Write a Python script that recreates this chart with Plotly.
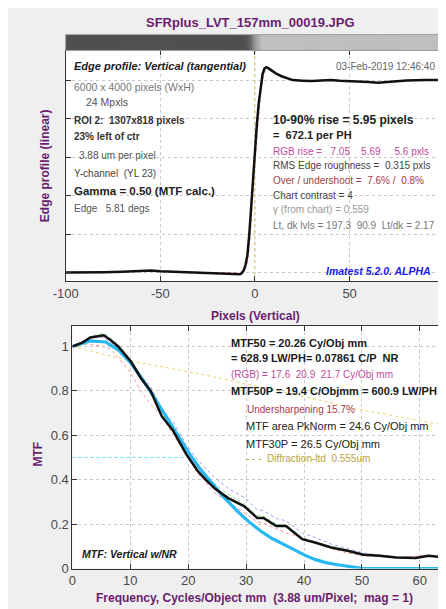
import plotly.graph_objects as go

W, H = 446, 609

# ---------------- data ----------------
edge_x = [-100, -90, -80, -70, -60, -55, -50, -40, -30, -20, -15, -12, -10, -8, -7, -6, -5, -4, -3, -2, -1,
          0, 1, 2, 3, 4, 5, 6, 7, 9, 11, 14, 17, 20, 25, 30, 35, 40, 45, 50, 55, 60, 65, 70, 75, 80, 90, 100]
edge_y = [0.0, 0.0, 0.002, 0.004, 0.006, 0.01, 0.007, 0.003, 0.0, -0.003, -0.005, -0.008, -0.01, -0.009, -0.004, 0.01, 0.04, 0.09, 0.2, 0.35, 0.5,
          0.64, 0.77, 0.88, 0.97, 1.03, 1.06, 1.067, 1.062, 1.048, 1.035, 1.02, 1.008, 1.0, 0.997, 0.995, 0.998, 1.0, 0.996, 0.994, 0.995, 0.99, 0.986, 0.99, 0.996, 0.998, 1.0, 1.0]
edge_r = [0.0, 0.0, 0.002, 0.004, 0.006, 0.01, 0.007, 0.003, 0.0, 0.0, 0.0, 0.0, 0.0, 0.0, 0.005, 0.01, 0.02, 0.05, 0.12, 0.25, 0.4,
          0.56, 0.7, 0.83, 0.93, 1.0, 1.04, 1.06, 1.06, 1.05, 1.035, 1.02, 1.008, 1.0, 0.997, 0.995, 0.998, 1.0, 0.996, 0.994, 0.995, 0.99, 0.986, 0.99, 0.996, 0.998, 1.0, 1.0]

edge_ticks = [-100, -50, 0, 50, 100]
edge_tick_text = ["-100", "-50", "0", "50", "100"]

freq = [0, 1.7, 3.1, 5.4, 6.5, 7.9, 10.1, 11.8, 13.5, 15.4, 17.4, 19.6, 21.6, 23.0, 24.6, 26.9, 29.7, 31.9, 33.0,
        35.2, 36.9, 39.7, 41.9, 44.7, 47.5, 50.3, 53.1, 55.9, 59.3, 61.5, 64.0]
mtf_y = [1.0, 1.017, 1.04, 1.05, 1.03, 1.0, 0.932, 0.858, 0.80, 0.687, 0.62, 0.517, 0.44, 0.40, 0.36, 0.317, 0.28, 0.228, 0.228,
         0.191, 0.191, 0.132, 0.117, 0.095, 0.08, 0.062, 0.058, 0.05, 0.047, 0.058, 0.05]
mtf_r = [1.0, 1.01, 1.01, 1.0, 0.99, 0.95, 0.88, 0.80, 0.74, 0.69, 0.60, 0.52, 0.43, 0.39, 0.34, 0.30, 0.25, 0.21, 0.205,
         0.18, 0.16, 0.14, 0.115, 0.09, 0.07, 0.058, 0.055, 0.05, 0.055, 0.06, 0.055]
mtf_g = [1.0, 1.02, 1.045, 1.06, 1.04, 1.01, 0.94, 0.87, 0.81, 0.70, 0.635, 0.535, 0.46, 0.42, 0.38, 0.335, 0.29, 0.24, 0.235,
         0.2, 0.195, 0.14, 0.12, 0.1, 0.085, 0.065, 0.06, 0.052, 0.05, 0.058, 0.052]
mtf_b = [1.0, 1.02, 1.04, 1.04, 1.02, 0.99, 0.93, 0.87, 0.82, 0.72, 0.66, 0.56, 0.49, 0.45, 0.41, 0.36, 0.32, 0.265, 0.26,
         0.225, 0.215, 0.16, 0.14, 0.11, 0.09, 0.07, 0.06, 0.052, 0.05, 0.056, 0.05]

std_f = [0, 3, 5.7, 7.9, 10.1, 12, 14, 16, 18, 20, 22, 24.1, 26, 28.5, 30.5, 32.5, 34.5, 36.4, 38.5, 40.3, 42, 43.6, 45.5, 47.5, 50.3, 55, 64.4]
std_m = [1.0, 1.025, 1.02, 0.985, 0.925, 0.855, 0.775, 0.69, 0.61, 0.525, 0.45, 0.385, 0.325, 0.258, 0.21, 0.169, 0.135, 0.11, 0.08, 0.058, 0.04, 0.028, 0.018, 0.01, 0.0, 0.0, 0.0]

diff_f = [0, 10, 21.3, 30, 40, 48.1, 55, 64.4]
diff_m = [1.0, 0.935, 0.88, 0.83, 0.775, 0.724, 0.69, 0.644]

mtf50 = 20.26

PURPLE = "#6a1d6e"
FONT = "Liberation Sans"

def px(x):
    return x / W

def py(y):
    return 1 - y / H

fig = go.Figure()

# gradient bar (edge image) from the profile
fig.add_trace(go.Heatmap(x=edge_x, y=[0], z=[edge_y], xaxis="x", yaxis="y3",
                         colorscale=[[0, "#4e4e4e"], [1, "#bfbfbf"]], zmin=-0.01, zmax=1.0,
                         zsmooth="best", showscale=False, hoverinfo="skip"))

# top plot
fig.add_trace(go.Scatter(x=edge_x, y=edge_r, mode="lines", line=dict(color="#ff8a8a", width=1, dash="dot"),
                         xaxis="x", yaxis="y"))
fig.add_trace(go.Scatter(x=edge_x, y=edge_y, mode="lines", line=dict(color="#7fd67f", width=1, dash="dot"),
                         xaxis="x", yaxis="y"))
fig.add_trace(go.Scatter(x=[0, 0], y=[-0.046, 1.154], mode="lines",
                         line=dict(color="#d8cc55", width=1, dash="dot"), xaxis="x", yaxis="y"))
fig.add_trace(go.Scatter(x=edge_x, y=edge_y, mode="lines", line=dict(color="#111111", width=2.5),
                         xaxis="x", yaxis="y"))

# bottom plot
fig.add_trace(go.Scatter(x=diff_f, y=diff_m, mode="lines", line=dict(color="#e8d36a", width=1, dash="dot"),
                         xaxis="x2", yaxis="y2"))
fig.add_trace(go.Scatter(x=[0, mtf50], y=[0.5, 0.5], mode="lines", line=dict(color="#4fe6e6", width=1, dash="dot"),
                         xaxis="x2", yaxis="y2"))
fig.add_trace(go.Scatter(x=freq, y=mtf_r, mode="lines", line=dict(color="#ff9090", width=1, dash="dot"),
                         xaxis="x2", yaxis="y2"))
fig.add_trace(go.Scatter(x=freq, y=mtf_b, mode="lines", line=dict(color="#9a9aff", width=1, dash="dot"),
                         xaxis="x2", yaxis="y2"))
fig.add_trace(go.Scatter(x=freq, y=mtf_g, mode="lines", line=dict(color="#80e080", width=1, dash="dot"),
                         xaxis="x2", yaxis="y2"))
fig.add_trace(go.Scatter(x=std_f, y=std_m, mode="lines", line=dict(color="#27b8ef", width=3.2),
                         xaxis="x2", yaxis="y2"))
fig.add_trace(go.Scatter(x=freq, y=mtf_y, mode="lines", line=dict(color="#111111", width=2.5),
                         xaxis="x2", yaxis="y2"))

axis_common = dict(showline=True, linecolor="#333333", linewidth=1, mirror="ticks", ticks="inside",
                   ticklen=5, tickcolor="#333333", showgrid=True, gridcolor="#c8c8c8", griddash="dot",
                   zeroline=False, tickfont=dict(family=FONT, size=13, color="#4a4a4a"))

fig.update_layout(
    width=W, height=H, margin=dict(l=0, r=0, t=0, b=0),
    paper_bgcolor="#efefef", plot_bgcolor="white", showlegend=False,
    font=dict(family=FONT),
    xaxis=dict(domain=[px(46), px(436)], range=[-100, 100], tickvals=edge_ticks, ticktext=edge_tick_text,
               anchor="y", **axis_common),
    yaxis=dict(domain=[py(277), py(43)], range=[-0.046, 1.154], dtick=0.2, showticklabels=False,
               anchor="x", **axis_common),
    yaxis3=dict(domain=[py(43), py(27)], range=[-0.5, 0.5], showticklabels=False, showgrid=False,
                zeroline=False, anchor="x", showline=False),
    xaxis2=dict(domain=[px(53), px(437)], range=[0, 64.4], dtick=10, anchor="y2", **axis_common),
    yaxis2=dict(domain=[py(568), py(322)], range=[0, 1.093], dtick=0.2, anchor="x2", **axis_common),
)

# frame around the gradient bar
fig.add_shape(type="rect", xref="paper", yref="paper", x0=px(46), x1=px(436), y0=py(43), y1=py(27),
              line=dict(color="#999999", width=1))
# partial side bar at right edge
fig.add_shape(type="rect", xref="paper", yref="paper", x0=px(441), x1=px(446), y0=py(247), y1=py(125),
              fillcolor="#5a5a5a", line=dict(color="#bbbbbb", width=1))

def ann(x, y, text, size=10, color="#333333", bold=False, italic=False, anchor="left", angle=0):
    t = text
    if bold:
        t = "<b>" + t + "</b>"
    if italic:
        t = "<i>" + t + "</i>"
    fig.add_annotation(x=px(x), y=py(y), xref="paper", yref="paper", text=t, showarrow=False,
                       xanchor=anchor, yanchor="middle", textangle=angle,
                       font=dict(family=FONT, size=size, color=color))

# titles
ann(236, 15, "SFRplus_LVT_157mm_00019.JPG", 13, PURPLE, bold=True, anchor="center")
ann(242, 312, "Pixels (Vertical)", 12, PURPLE, bold=True, anchor="center")
ann(25, 160, "Edge profile (linear)", 12, PURPLE, bold=True, anchor="center", angle=-90)
ann(18, 452, "MTF", 12, PURPLE, bold=True, anchor="center", angle=-90)
ann(240, 598, "Frequency, Cycles/Object mm  (3.88 um/Pixel;  mag = 1)", 12, PURPLE, bold=True, anchor="center")

# top-left text block
ann(53, 59, "Edge profile: Vertical (tangential)", 11, "#1a1a1a", bold=True, italic=True)
ann(428, 59, "03-Feb-2019 12:46:40", 10, "#666666", anchor="right")
ann(53, 80, "6000 x 4000 pixels (WxH)", 10.5, "#777777")
ann(65, 95, "24 Mpxls", 10.5, "#555555")
ann(53, 114, "ROI 2:  1307x818 pixels", 10, "#333333", bold=True)
ann(53, 130, "23% left of ctr", 10, "#333333", bold=True)
ann(58, 149, "3.88 um per pixel", 10, "#555555")
ann(53, 168, "Y-channel  (YL 23)", 10, "#444444")
ann(53, 185, "Gamma = 0.50 (MTF calc.)", 11.5, "#222222", bold=True)
ann(53, 203, "Edge   5.81 degs", 10, "#555555")

# top-right text block
ann(257, 113, "10-90% rise = 5.95 pixels", 12, "#222222", bold=True)
ann(257, 129, "=  672.1 per PH", 11, "#222222", bold=True)
ann(257, 145, "RGB rise =   7.05    5.69     5.6 pxls", 10, "#c24a9e")
ann(257, 160, "RMS Edge roughness =  0.315 pxls", 10, "#444444")
ann(257, 175, "Over / undershoot =  7.6% /  0.8%", 10, "#a23a45")
ann(257, 190, "Chart contrast = 4", 10, "#444444")
ann(257, 204, "γ (from chart) = 0.559", 10, "#999999")
ann(257, 220, "Lt, dk lvls = 197.3  90.9  Lt/dk = 2.17", 10, "#777777")
ann(424, 267, "Imatest 5.2.0. ALPHA", 10.5, "#1a1ae6", bold=True, italic=True, anchor="right")

# bottom text block
ann(214, 339, "MTF50 = 20.26 Cy/Obj mm", 11, "#1a1a1a", bold=True)
ann(214, 355, "= 628.9 LW/PH= 0.07861 C/P  NR", 11, "#1a1a1a", bold=True)
ann(214, 371, "(RGB) = 17.6  20.9  21.7 Cy/Obj mm", 10, "#c24a9e")
ann(214, 388, "MTF50P = 19.4 C/Objmm = 600.9 LW/PH", 11, "#1a1a1a", bold=True)
ann(231, 407, "Undersharpening 15.7%", 10, "#a23a45")
ann(230, 424, "MTF area PkNorm = 24.6 Cy/Obj mm", 11, "#222222")
ann(230, 442, "MTF30P = 26.5 Cy/Obj mm", 11, "#222222")
ann(230, 457, "- - -  Diffraction-ltd  0.555um", 10, "#b9a23a")
ann(61, 553, "MTF: Vertical w/NR", 10.5, "#1a1a1a", bold=True, italic=True)

fig.write_html("out.html")
